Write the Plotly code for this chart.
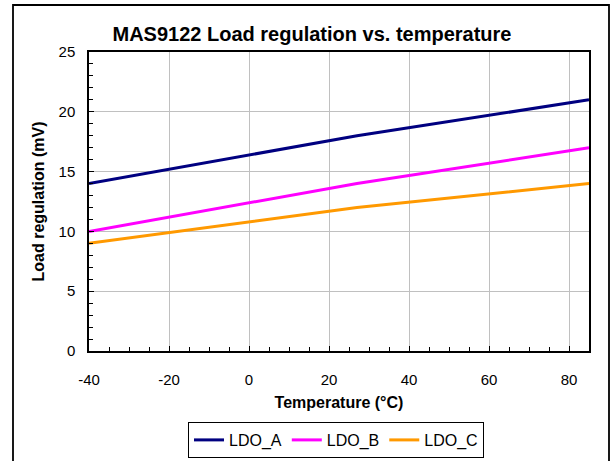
import plotly.graph_objects as go

temps = [-40, 27, 85]
ldo_a = [14, 18, 21]
ldo_b = [10, 14, 17]
ldo_c = [9, 12, 14]
series_names = ["LDO_A", "LDO_B", "LDO_C"]
series_colors = ["#000080", "#FF00FF", "#FF9900"]
x_tick_vals = [-40, -20, 0, 20, 40, 60, 80]
x_tick_labels = ["-40", "-20", "0", "20", "40", "60", "80"]
y_tick_vals = [0, 5, 10, 15, 20, 25]
y_tick_labels = ["0", "5", "10", "15", "20", "25"]

fig = go.Figure()
for name, vals, col in zip(series_names, [ldo_a, ldo_b, ldo_c], series_colors):
    fig.add_trace(go.Scatter(x=temps, y=vals, mode="lines", name=name,
                             line=dict(color=col, width=3)))

W, H = 612, 461
L, R, T, B = 89, 23, 52, 110
pw, ph = W - L - R, H - T - B
FONT = "Liberation Sans, Arial, sans-serif"

fig.update_layout(
    width=W, height=H,
    margin=dict(l=L, r=R, t=T, b=B, autoexpand=False),
    paper_bgcolor="white", plot_bgcolor="white",
    font=dict(family=FONT, size=15, color="black"),
    title=dict(text="<b>MAS9122 Load regulation vs. temperature</b>",
               x=312 / W, xanchor="center", y=1 - 33.5 / H, yanchor="middle",
               font=dict(size=20)),
    showlegend=True,
    legend=dict(orientation="h", x=(336 - L) / pw, xanchor="center",
                y=(H - B - 422) / ph, yanchor="top",
                bordercolor="black", borderwidth=1, bgcolor="white",
                font=dict(size=16), tracegroupgap=0),
    xaxis=dict(range=[-40, 85], tickvals=x_tick_vals, ticktext=x_tick_labels,
               showgrid=True, gridcolor="#c0c0c0", gridwidth=1,
               showline=True, linecolor="black", linewidth=1.5, mirror=True,
               ticks="inside", ticklen=5, tickcolor="black",
               ticklabelstandoff=14,
               minor=dict(dtick=5, ticks="inside", ticklen=4, tickcolor="black", showgrid=False),
               zeroline=False,
               title=dict(text="<b>Temperature (°C)</b>", font=dict(size=16), standoff=10)),
    yaxis=dict(range=[0, 25], tickvals=y_tick_vals, ticktext=y_tick_labels,
               showgrid=True, gridcolor="#c0c0c0", gridwidth=1,
               showline=True, linecolor="black", linewidth=1.5, mirror=True,
               ticks="inside", ticklen=5, tickcolor="black",
               ticklabelstandoff=9,
               minor=dict(dtick=1, ticks="inside", ticklen=4, tickcolor="black", showgrid=False),
               zeroline=False,
               title=dict(text="<b>Load regulation (mV)</b>", font=dict(size=16), standoff=10)),
)

# outer chart frame
fig.add_shape(type="rect", xref="paper", yref="paper",
              x0=(13 - L) / pw, x1=(609 - L) / pw,
              y0=(H - B - 470) / ph, y1=(H - B - 5) / ph,
              line=dict(color="black", width=1.8), fillcolor="rgba(0,0,0,0)", layer="below")

fig.write_html("out.html", config={"displayModeBar": False},
               post_script="document.body.style.margin='0';")
